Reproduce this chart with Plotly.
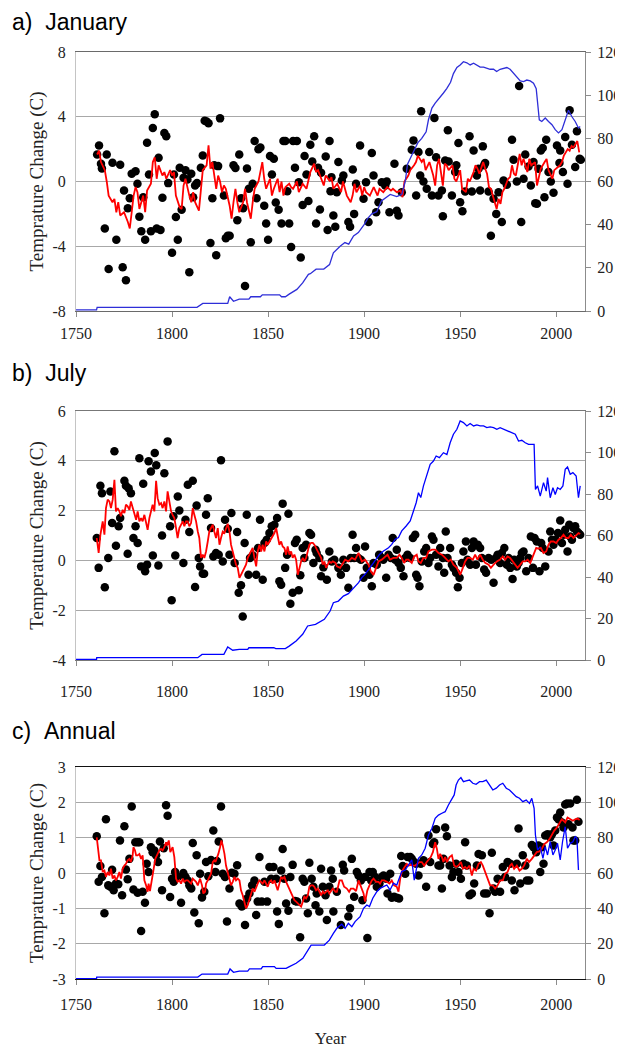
import plotly.graph_objects as go

# ---------------- DATA ----------------
# (year, temperature change in C) for the black dots
jan_points = [
    (1761, 1.67), (1762, 2.23), (1763, 1.1), (1763.5, 0.8), (1766, 1.67), (1765, -2.9), (1767, -5.4),
    (1769, 1.16), (1771, -3.6), (1773, 1.03), (1774.3, -5.3), (1776, -6.1), (1775, -0.56), (1777, -1.65),
    (1778, -1.03), (1779, 0.48), (1781, 0.64), (1782, -0.14), (1783, -2.17), (1784, -3.08), (1785, -0.97),
    (1786, -3.6), (1787, 2.4), (1788, 0.43), (1789, -3.08), (1790, 3.3), (1791, 4.15), (1792, -2.9),
    (1793, 1.47), (1794, -3.0), (1795, -1.0), (1796, 3.0), (1797, 2.8), (1798, -0.1), (1800, -4.4),
    (1801, 0.43), (1802, -2.2), (1803, -3.6), (1804, 0.85), (1805, -1.75), (1806, 0.23), (1807, 0.7),
    (1808, 0.12), (1809, -5.6), (1810, 0.48), (1811, -0.97), (1812, -0.25), (1813, -0.1), (1815, 0.85),
    (1816, 1.6), (1817, 3.75), (1818, 3.7), (1819, 3.6), (1820, -3.8), (1821, -1.03), (1822, 1.0),
    (1823, -4.55), (1824, 0.95), (1825, 3.9), (1827, -0.87), (1828, -3.5), (1829, -3.35), (1830, -3.35),
    (1832, 1.0), (1833, 0.83), (1834, -2.4), (1835, 1.67), (1836, -1.03), (1837, -1.65), (1838, -6.45),
    (1839, 0.8), (1840, -0.45), (1841, -3.75), (1842, -0.14), (1843, 2.5), (1844, -1.03), (1845, 2.0),
    (1846, 2.1), (1848, -1.5), (1849, -2.6), (1850, -3.6), (1851, 1.57), (1852, 0.43), (1853, 1.4),
    (1854, -1.3), (1855.5, -1.75), (1857, -2.6), (1858, 2.5), (1859, 2.5), (1860, -0.6), (1861, -2.6),
    (1862, -4.05), (1863, 2.5), (1864, 0.85), (1865, 2.5), (1866, -0.04), (1867, -4.7), (1868, -1.45),
    (1869, 1.57), (1870, 0.43), (1871, -1.2), (1872, 2.27), (1873, 1.24), (1874, 2.8), (1875, -2.6),
    (1876, 0.85), (1877, -1.73), (1877.6, 0.54), (1880, 1.55), (1881, -3.0), (1882, 2.5), (1882.5, -0.6),
    (1883, 0.27), (1884, -2.1), (1885, -2.8), (1885.8, -0.66), (1886.6, 1.2), (1888.4, 0.06), (1889.2, 0.37),
    (1891.8, -2.5), (1892.7, -2.8), (1894.1, 0.74), (1894.8, -2.0), (1895.8, -0.14), (1897.9, 2.23),
    (1899.7, -1.07), (1901, -0.04), (1902.3, -2.5), (1904, 1.76), (1904.9, 0.37), (1906.3, -1.9),
    (1907.5, -1.28), (1909.2, -0.04), (1911, -0.25), (1911.8, 0.0), (1913.2, -1.9), (1915.8, 1.1),
    (1917, -1.8), (1917.9, -2.1), (1919.6, -0.66), (1922.2, 0.79), (1924.8, 1.96), (1925.7, 2.54),
    (1927.1, -0.87), (1928.3, 1.82), (1929.2, 0.37), (1929.7, 4.34), (1930.9, 0.0), (1932.6, -0.45),
    (1933.9, 1.82), (1935.3, -0.87), (1936.6, 3.93), (1937.5, 1.5), (1938.7, -0.87), (1940.5, -0.56),
    (1941, -2.15), (1942.2, 1.3), (1943.6, 3.16), (1944, 1.24), (1945.7, -0.87), (1947.4, 0.58),
    (1948, 1.0), (1949.1, 2.38), (1950, -1.28), (1951.2, -1.84), (1952.6, -0.62), (1954.9, 2.8),
    (1956.1, -0.62), (1957, 1.92), (1958.7, 0.37), (1959.6, 0.79), (1960.4, -0.56), (1961.8, 2.17),
    (1962.5, 1.0), (1963, 1.14), (1964.8, -0.62), (1966, -3.35), (1967.4, -1.07), (1968.8, -2.0),
    (1970, -0.66), (1971.7, -2.5), (1972.6, 0.06), (1974.3, -0.2), (1977, 2.58), (1977.8, 1.34),
    (1979.5, 0.0), (1980.7, 5.9), (1981.8, -2.5), (1983, 0.17), (1983.9, 1.67), (1985.6, 0.93),
    (1986.8, -0.25), (1988.2, 1.2), (1989.1, -1.34), (1990, -1.38), (1990.8, 0.79), (1992, 1.92),
    (1993, 2.07), (1993.9, -0.97), (1994.8, 2.58), (1996, 0.58), (1997.2, 0.0), (1998.6, -0.7),
    (2000.4, 2.23), (2001.7, 1.14), (2002.1, 1.92), (2003.5, 0.58), (2004.7, 2.75), (2005.9, -0.14),
    (2007, 4.4), (2008.2, 2.27), (2009.9, 0.89), (2010.8, 3.1), (2012.2, 1.4), (2012.8, 1.34),
]

jan_red = [
    (1761, 1.67), (1762, 1.9), (1763, 1.2), (1765, 0.7), (1766, 0), (1767, -0.87), (1769, -1.28), (1770, -1.07),
    (1771, -1.9), (1772, -1.28), (1773, -2.1), (1775, -1.9), (1777, -2.5), (1778, -2.9), (1779, -1.9),
    (1780, -0.87), (1781, -0.35), (1782, -0.66), (1783, -1.7), (1785, -0.87), (1786, -1.9), (1787, -0.56),
    (1789, -0.14), (1790, 1.2), (1791, 1.5), (1792, 0.17), (1793, 1.0), (1795, 0.37), (1796, 0.58),
    (1797, 0.17), (1799, 0.7), (1800, 0.37), (1801, 0.58), (1802, -0.87), (1804, -1.6), (1805, -1.7),
    (1806, -0.25), (1807, 0.17), (1809, -0.87), (1810, -1.28), (1811, -0.66), (1812, -1.28), (1814, -1.8),
    (1815, -0.45), (1816, 0.7), (1818, 1.0), (1819, 2.23), (1820, 0.79), (1821, 1.2), (1823, -0.45),
    (1824, 0.37), (1825, 0), (1826, -0.66), (1827, -0.25), (1828, -0.45), (1830, -1.5), (1831, -2.3),
    (1832, -1.28), (1833, -0.45), (1834, -1.28), (1835, -1.9), (1837, -1.28), (1838, -0.45), (1839, -1.28),
    (1841, -2.3), (1842, -1.28), (1843, -0.45), (1845, 0), (1846, 0.7), (1847, 1.2), (1848, 0.17),
    (1849, -0.45), (1851, 0.17), (1852, -0.87), (1853, -0.45), (1855, 0.17), (1856, -0.66), (1857, 0),
    (1858, -0.87), (1859, -0.35), (1861, -0.14), (1862, -0.35), (1863, -0.45), (1865, 0), (1866, -0.66),
    (1867, -0.35), (1868, -0.14), (1870, -0.45), (1871, 0), (1872, 0.58), (1874, 1.1), (1875, 0.58),
    (1876, 0.7), (1878, 0.06), (1879, -0.25), (1880, 0.37), (1882, 0.06), (1883, 0.27), (1884, -0.45),
    (1886, -0.14), (1888, -0.66), (1889, 0.0), (1891, -0.87), (1893, -1.28), (1894, -0.87), (1895, -0.14),
    (1896, -0.66), (1898, -0.25), (1899, -0.87), (1900, -0.35), (1901, -0.66), (1903, -0.87), (1905, -0.35),
    (1907, -0.87), (1908, -0.45), (1910, -0.66), (1912, -0.35), (1914, -0.56), (1915, -0.45), (1917, -0.66),
    (1919, -0.56), (1920, -0.97), (1921, 0.0), (1923, 0.37), (1924, 0.7), (1926, 1.0), (1927, 1.2),
    (1928, 1.6), (1930, 1.2), (1931, 1.4), (1932, 0.7), (1934, 1.2), (1935, 0.8), (1936, 0.37),
    (1937, -0.25), (1938, 1.0), (1939, 1.4), (1940, 0.7), (1941, -0.25), (1942, 1.1), (1943, 1.0),
    (1944, 0.7), (1946, 1.0), (1947, 0.17), (1948, 0.0), (1950, 0.7), (1951, -0.45), (1953, -0.66),
    (1954, 0.17), (1955, 0.0), (1957, 0.58), (1958, 1.0), (1959, 0.8), (1960, 0.48), (1962, 1.2),
    (1963, 0.8), (1964, 0.48), (1965, -0.35), (1966, -0.45), (1968, -1.28), (1969, -1.7), (1970, -1.07),
    (1971, -1.38), (1972, -0.66), (1973, -0.45), (1975, 0.17), (1976, 0.27), (1977, 1.0), (1978, 0.48),
    (1979, 0.37), (1981, 1.7), (1982, 1.0), (1983, 1.4), (1985, 0.58), (1986, 1.4), (1987, 1.0),
    (1989, 1.2), (1990, -0.25), (1991, 0.37), (1992, 0.8), (1994, 1.2), (1995, 1.4), (1996, 0.7),
    (1998, 0.17), (1999, 0.7), (2000, 0.8), (2002, 1.0), (2003, 1.2), (2004, 1.6), (2006, 2.0),
    (2007, 1.9), (2008, 2.2), (2009, 2.1), (2011, 2.5), (2012, 1.8),
]

# (year, number of stations) for the blue line
jan_stations = [
    (1750, 0.5), (1760.7, 0.5), (1761, 1.7), (1813, 1.7), (1816, 3.5), (1829, 3.5), (1830, 6.6), (1832, 4.5),
    (1835, 5.5), (1840, 5.5), (1841, 6.6), (1846, 6.6), (1847, 7.5), (1856, 7.5), (1857, 6.6), (1859, 6.6),
    (1861, 7.8), (1865, 10), (1868, 13), (1871, 17), (1872, 17.3), (1875, 19.4), (1879, 19.4), (1882, 21.5),
    (1884, 27), (1885, 28), (1887.5, 30), (1890, 31.7), (1892, 31), (1894.5, 34.8), (1897, 36.3), (1900, 40),
    (1902, 43), (1904, 45), (1906.6, 46), (1909, 51), (1911, 52.5), (1913.6, 54), (1917, 53), (1919.6, 54),
    (1921.4, 60), (1922.6, 68), (1925, 72.5), (1926.6, 75.5), (1928, 78), (1930, 80), (1932.3, 83),
    (1933.5, 88.6), (1935.3, 94), (1937, 96.3), (1938.7, 98), (1941.3, 101), (1943, 103), (1945, 106),
    (1946.5, 110), (1948.3, 112.8), (1950, 114), (1951.7, 115.5), (1953.5, 115), (1955.2, 114),
    (1957, 114.8), (1958.7, 114), (1960.4, 113), (1962.2, 113), (1964, 112.5), (1965.6, 112), (1967.4, 112),
    (1969, 111), (1970.8, 112), (1972.6, 112.5), (1974.3, 112.8), (1976, 112), (1977.8, 110), (1979.5, 108.6),
    (1981.3, 106.6), (1983, 106.3), (1984.7, 107), (1986.5, 106.6), (1988.2, 105.5), (1989.6, 103),
    (1990.3, 95.5), (1991.2, 88.6), (1992.5, 87.8), (1994.3, 89.4), (1996, 87.8), (1997.8, 86.3),
    (1999.5, 84), (2001.2, 82.5), (2003, 84), (2004.7, 88.6), (2006.4, 93), (2008.2, 90), (2009.9, 87.8),
    (2011.6, 84.8), (2012.5, 85.5),
]

jul_points = [
    (1760.8, 0.9), (1761.8, -0.3), (1762.7, 3.0), (1763.5, 2.7), (1765, -1.08), (1766.8, 0.1), (1767.9, 2.77),
    (1768.8, 1.5), (1770, 4.38), (1770.8, 0.59), (1772.2, 1.37), (1773, 1.7), (1775.2, 3.2), (1776, 3.0),
    (1776.9, 0.27), (1777.4, 2.9), (1778.6, 2.7), (1779.9, 0.9), (1781, 1.37), (1782.1, 0.7), (1783, 4.1),
    (1783.9, -0.24), (1785, 3.08), (1786, -0.44), (1787, -0.17), (1787.8, 3.98), (1789, 3.57), (1790, 0.2),
    (1791, 4.31), (1791.8, 3.82), (1792.9, -0.2), (1794.8, 1.0), (1796, 3.5), (1797.7, 4.78), (1799, 1.37),
    (1799.8, -1.6), (1800.7, 1.77), (1801.7, 0.2), (1803, 2.57), (1803.8, 2.0), (1805.9, -0.1), (1807, 1.63),
    (1808.2, 3.04), (1809, 1.14), (1810.8, 3.2), (1812, -1.07), (1812.8, 2.2), (1813.9, 0.1), (1814.6, -0.24),
    (1816, -0.54), (1816.7, -0.54), (1817.7, 1.83), (1818.6, 2.5), (1820.3, 1.3), (1821.5, 0.16),
    (1822.9, 0.3), (1824.3, 0.23), (1825.5, 4.02), (1826.4, -0.04), (1827.6, 1.63), (1829, 1.27),
    (1829.9, 0.23), (1830.9, 1.9), (1832.6, -0.1), (1833.9, 1.14), (1834.7, -1.3), (1835.9, -1.0),
    (1836.8, -2.25), (1837.8, 0.7), (1838.9, 1.83), (1839.8, -0.58), (1840.6, 0.1), (1842, 0.2),
    (1843.8, -0.58), (1844.8, 0.5), (1845.8, 1.63), (1847.2, -0.78), (1848.1, 0.7), (1849.3, 0.83),
    (1850.7, 1.1), (1851.9, 1.37), (1853.3, 1.43), (1854.7, 1.7), (1855.9, -0.84), (1856.8, -0.98),
    (1857.6, 2.28), (1858.9, -0.3), (1859.9, 0.23), (1860.6, 1.87), (1861.6, -1.74), (1862.8, -1.3),
    (1864, 0.7), (1864.9, 0.83), (1866, -1.2), (1866.8, -0.6), (1868, 0.5), (1868.9, 0.1), (1869.8, 0.63),
    (1871.5, 1.1), (1872.4, 1.03), (1873.6, -0.1), (1874.7, 0.43), (1875.3, 0.3), (1876.7, 0.1),
    (1877.6, -0.64), (1878.8, -0.28), (1880.6, -0.78), (1881.9, 0.36), (1883.2, -0.04), (1884.5, 0.03),
    (1886.6, -0.3), (1887.9, -0.58), (1889.2, 0.03), (1890.6, -0.3), (1891.8, -1.1), (1893, 0.1),
    (1894, 1.03), (1894.8, 0.1), (1895.8, 0.5), (1897, 0.1), (1898.3, 0.03), (1899.7, -0.7), (1900.5, 0.56),
    (1901.4, -0.3), (1902.8, -0.58), (1904, -1.04), (1904.9, -0.1), (1906.6, -0.17), (1907.8, 0.23),
    (1909.2, 0.1), (1910, 0.03), (1911.5, -0.7), (1912.7, 0.23), (1913.9, 0.1), (1914.9, 0.9),
    (1916.2, 0.03), (1917, 0.43), (1917.9, -0.1), (1919.1, -0.3), (1920.5, -0.64), (1921.4, 0.1),
    (1922.6, 0.23), (1924, 0.1), (1925.4, 0.9), (1926.6, 1.03), (1927.1, -0.58), (1927.8, -0.7),
    (1928.8, -1.04), (1930, -0.04), (1931.3, 0.36), (1932.3, 0.5), (1933.5, -0.1), (1934.4, 0.1),
    (1935.3, 0.96), (1936.1, 0.83), (1937.5, 0.23), (1938.7, -0.24), (1939.6, 0.5), (1941, 0.1),
    (1941.7, -0.5), (1942.5, 1.16), (1943.4, 0.1), (1944.8, 0.5), (1945.7, -0.17), (1946.5, -0.3),
    (1947.9, -0.5), (1948.8, -1.08), (1949.7, -0.7), (1950.9, -0.1), (1951.7, 0.36), (1953, 0.76),
    (1953.8, 0.03), (1955.2, -0.17), (1956.1, 0.5), (1957, 0.76), (1958.2, -0.17), (1959.2, 0.63),
    (1960.4, 0.5), (1961.3, 0.1), (1962.5, -0.37), (1963.5, -0.5), (1964.8, 0.1), (1966.2, 0.03),
    (1967.4, -0.9), (1968.6, 0.1), (1969.5, 0.23), (1970.8, -0.1), (1971.7, 0.3), (1973, 0.5),
    (1974.3, -0.17), (1975.2, 0.1), (1976.1, -0.3), (1977.3, -0.75), (1978.1, 0.03), (1979.5, -0.24),
    (1980.4, -0.1), (1981.3, 0.1), (1982.1, 0.3), (1983, 0.36), (1984.4, -0.44), (1985.6, 0.1),
    (1986.8, 0.96), (1987.9, -0.3), (1988.7, 0.9), (1989.9, 0.76), (1991.3, -0.44), (1992.2, 0.7),
    (1993, 0.5), (1994.3, -0.24), (1996, 0.36), (1996.9, 1.16), (1997.8, 0.83), (1998.6, 0.63),
    (1999.8, 0.83), (2000.9, 1.1), (2002.1, 1.6), (2003, 0.7), (2003.8, 1.03), (2004.7, 1.23),
    (2005.9, 0.36), (2006.8, 1.43), (2007.3, 0.96), (2008.2, 0.83), (2009, 1.3), (2009.9, 1.37),
    (2010.8, 1.16), (2011.6, 1.1), (2012.5, 1.03),
]

jul_red = [
    (1760.8, 0.9), (1761.8, 0.3), (1762.7, 1.03), (1763.9, 1.57), (1764.8, 1.03), (1765.6, 2.1), (1766.5, 2.44),
    (1767.4, 2.37), (1768.2, 2.1), (1769.1, 2.44), (1770.0, 3.24), (1770.8, 1.97), (1771.7, 2.1), (1772.6, 1.97),
    (1773.4, 1.77), (1774.3, 2.03), (1775.2, 1.9), (1776.0, 2.24), (1776.9, 2.17), (1777.8, 2.03), (1778.6, 2.37),
    (1779.5, 2.1), (1780.4, 1.83), (1781.3, 1.63), (1782.1, 1.97), (1783.0, 1.57), (1783.9, 1.7), (1784.7, 1.57),
    (1785.6, 1.83), (1786.5, 1.43), (1787.3, 1.23), (1788.2, 1.7), (1789.1, 1.97), (1789.9, 2.24), (1790.8, 1.97),
    (1791.7, 3.2), (1792.5, 2.5), (1793.4, 2.24), (1794.3, 2.3), (1795.1, 2.1), (1796.0, 2.37), (1796.9, 1.97),
    (1797.7, 2.77), (1798.6, 2.37), (1799.5, 1.97), (1800.3, 1.83), (1801.2, 1.7), (1802.1, 1.3), (1802.9, 0.9),
    (1803.8, 1.3), (1804.7, 1.43), (1805.6, 1.57), (1806.4, 1.37), (1807.3, 1.57), (1808.2, 1.57), (1809.0, 1.37),
    (1809.9, 1.5), (1810.8, 2.1), (1811.6, 1.83), (1812.5, 1.57), (1813.4, 1.16), (1814.2, 0.9), (1815.1, 0.1),
    (1816.0, 0.23), (1816.8, 0.1), (1817.7, 0.36), (1818.6, 0.76), (1819.4, 1.16), (1820.3, 1.3), (1821.2, 1.43),
    (1822.0, 1.16), (1822.9, 0.9), (1823.8, 1.3), (1824.7, 0.63), (1825.5, 0.9), (1826.4, 1.16), (1827.3, 1.1),
    (1828.1, 1.3), (1829.0, 1.47), (1829.9, 1.16), (1830.7, 0.63), (1831.6, 0.36), (1832.5, 0.1), (1833.3, -0.17),
    (1834.2, -0.3), (1835.1, -0.7), (1835.9, -0.58), (1836.8, -0.44), (1837.7, -0.3), (1838.5, -0.17),
    (1839.4, 0.1), (1840.3, 0.23), (1841.1, 0.36), (1842.0, 0.5), (1842.9, 0.1), (1843.8, -0.24), (1844.6, 0.36),
    (1845.5, 0.63), (1846.4, 0.36), (1847.2, 0.63), (1848.1, 0.36), (1849.0, 0.76), (1849.8, 0.63),
    (1850.7, 0.76), (1851.6, 0.9), (1852.4, 1.03), (1853.3, 1.1), (1854.2, 1.3), (1855.0, 0.9), (1855.9, 0.63),
    (1856.8, 0.76), (1857.6, 0.56), (1858.5, 0.5), (1859.4, 0.23), (1860.2, 0.56), (1861.1, 0.23),
    (1862.0, 0.36), (1862.8, 0.1), (1863.7, 0.23), (1864.6, 0.03), (1865.5, -0.58), (1866.3, -0.3),
    (1867.2, -0.04), (1868.1, 0.1), (1868.9, -0.04), (1869.8, 0.1), (1870.7, 0.36), (1871.5, 0.63),
    (1872.4, 0.7), (1873.3, 0.7), (1874.1, 0.63), (1875.0, 0.5), (1875.9, 0.36), (1876.7, 0.23), (1877.6, 0.1),
    (1878.5, -0.17), (1879.3, -0.04), (1880.2, -0.3), (1881.1, -0.17), (1881.9, -0.04), (1882.8, -0.1),
    (1883.7, -0.04), (1885.1, -0.1), (1885.8, -0.24), (1887.5, -0.3), (1888.9, -0.1), (1890.1, 0.03),
    (1891.8, -0.04), (1893.6, 0.1), (1895.3, 0.03), (1897.1, 0.3), (1898.8, -0.04), (1900.5, 0.03),
    (1902.3, -0.17), (1903.5, -0.44), (1904.9, -0.58), (1906.1, -0.3), (1907.5, -0.04), (1909.2, 0.03),
    (1910.9, 0.16), (1912.2, 0.23), (1913.5, 0.03), (1915.3, 0.1), (1917.0, 0.1), (1918.4, 0.23), (1919.6, 0.1),
    (1920.8, -0.1), (1921.9, 0.03), (1923.1, 0.03), (1924.8, -0.1), (1926.1, 0.16), (1927.4, 0.23),
    (1928.3, -0.04), (1929.5, -0.1), (1930.9, 0.1), (1932.3, 0.1), (1933.5, 0.36), (1935.3, 0.43),
    (1937.0, 0.43), (1938.7, 0.3), (1940.5, 0.23), (1942.2, 0.1), (1943.9, -0.04), (1945.1, 0.03),
    (1946.5, -0.17), (1948.3, -0.3), (1950.0, -0.58), (1951.4, -0.3), (1952.6, -0.04), (1953.8, 0.1),
    (1955.2, 0.1), (1956.6, 0.03), (1957.8, 0.23), (1959.0, 0.03), (1960.4, 0.23), (1961.8, 0.03),
    (1963.0, -0.1), (1964.8, -0.17), (1966.0, -0.3), (1967.4, -0.17), (1969.1, -0.04), (1970.8, 0.03),
    (1972.2, 0.16), (1973.4, 0.03), (1974.7, 0.16), (1976.0, 0.1), (1977.4, -0.04), (1978.7, -0.17),
    (1979.9, -0.3), (1981.3, -0.17), (1982.6, -0.04), (1983.9, -0.04), (1985.1, 0.03), (1986.5, -0.1),
    (1988.2, 0.23), (1989.6, 0.5), (1990.8, 0.47), (1992.0, 0.5), (1993.4, 0.3), (1994.8, 0.36),
    (1996.0, 0.63), (1997.2, 0.76), (1998.6, 0.76), (2000.0, 0.7), (2001.2, 0.83), (2002.4, 0.9),
    (2003.8, 1.03), (2005.2, 0.9), (2006.4, 0.9), (2007.6, 1.03), (2009.0, 0.9), (2010.4, 1.03),
    (2011.6, 1.1), (2012.5, 1.06),
]

jul_stations = [
    (1750, 0.3), (1760.7, 0.3), (1760.8, 1.1), (1813.4, 1.1), (1815.6, 2.7), (1827, 2.7), (1829, 6.3),
    (1831.6, 4.7), (1835, 5.1), (1839.4, 5.1), (1840, 5.9), (1853, 5.9), (1854, 5.5), (1859, 5.5), (1861, 6.7),
    (1864.6, 9.2), (1868, 12.4), (1870.6, 16.4), (1874.7, 17.2), (1879.3, 19.6), (1882.3, 23.6), (1884, 27.6),
    (1886.6, 28.4), (1889.2, 30.8), (1891.8, 32), (1894.5, 34.9), (1897.1, 37.3), (1898.8, 39.7),
    (1900.5, 41.3), (1903.1, 44.5), (1905.7, 47.7), (1908, 50.9), (1910.1, 52.5), (1912.7, 54.1),
    (1914.4, 55.7), (1916.2, 58.2), (1917.9, 59), (1919.6, 62.2), (1921.9, 64.6), (1924, 67), (1925.7, 71.8),
    (1927.1, 75.8), (1928.3, 80.6), (1929.5, 78.3), (1930.9, 83.9), (1932.6, 88.7), (1934.4, 94.3),
    (1936.1, 95.9), (1937.5, 98.3), (1939.2, 97.5), (1941.3, 99.9), (1943.1, 99), (1944.8, 104.7),
    (1946.5, 108.8), (1948.3, 111.2), (1950, 115.2), (1951.7, 114.4), (1953.5, 112.8), (1955.2, 114),
    (1957, 112.8), (1958.7, 113.3), (1960.4, 112.8), (1962.2, 112.8), (1963.9, 112), (1965.6, 112.3),
    (1967.4, 112), (1969.1, 111.2), (1970.8, 112), (1972.6, 111.2), (1974.3, 110.4), (1976, 110),
    (1978.7, 108.8), (1980.4, 105.5), (1982.1, 105.9), (1983.9, 104.7), (1985.6, 103.9), (1987.3, 103.9),
    (1988.5, 103.9), (1989.2, 82.2), (1990.3, 83.9), (1991.7, 79), (1993.4, 85.5), (1994.8, 81.4),
    (1995.5, 87.9), (1996.9, 78.2), (1998.3, 83), (1999.5, 79.8), (2000.7, 83), (2002.1, 82.2),
    (2003.5, 83.9), (2004.7, 91.9), (2005.9, 93), (2007.3, 89.5), (2008.7, 90.3), (2010.4, 88.7),
    (2011.6, 78.2), (2012.5, 83.9),
]

ann_points = [
    (1760.8, 1.04), (1761.8, -0.25), (1762.7, 0.2), (1763.5, -0.11), (1764.8, -1.14), (1765.6, 1.52),
    (1766.8, -0.35), (1767.9, -0.39), (1768.8, 0.09), (1769.6, -0.49), (1770.8, -0.3), (1772, -0.32),
    (1772.9, 0.92), (1774, -0.63), (1775.2, 1.32), (1776, 0.1), (1776.9, -0.18), (1777.8, 0.4), (1779, 1.88),
    (1779.9, -0.47), (1780.9, 0.87), (1782.1, 0.87), (1783, 0.87), (1782.1, -0.56), (1783.9, -1.64),
    (1784.7, -0.53), (1785.9, -0.84), (1786.8, 0.26), (1787.8, 0.03), (1789, 0.73), (1789.9, 0.59),
    (1790.8, 0.64), (1791.7, 0.5), (1792.7, 0.31), (1793.7, 0.89), (1794.8, -0.49), (1795.7, 0.7),
    (1796.9, 1.92), (1797.7, 1.62), (1799, -0.68), (1800, -0.16), (1800.9, -0.25), (1801.6, 0.03),
    (1803, -0.11), (1804.7, -0.84), (1805.9, 0), (1807, -0.11), (1808.2, -0.21), (1809, -0.35), (1810, -0.44),
    (1810.8, 0.85), (1811.6, -1.12), (1812.8, 0.5), (1813.9, -1.42), (1814.6, -0.02), (1815.6, -0.69),
    (1816.8, -0.53), (1817.7, 0.31), (1818.9, -0.09), (1820.3, 0.37), (1821.5, 1.2), (1822.6, 0.03),
    (1823.3, 0.34), (1824.3, 0.89), (1825.5, 1.88), (1826.4, -0.02), (1827.6, -0.11), (1828.6, -1.37),
    (1829.9, -0.44), (1831.1, 0.01), (1832.5, -0.02), (1833.9, 0.22), (1835.1, -0.86), (1836.3, -0.95),
    (1837.3, -0.91), (1838, -1.47), (1839.1, -0.72), (1840.3, -0.58), (1841.7, -0.35), (1842.9, -0.21),
    (1843.8, -1.19), (1844.6, -0.81), (1845.5, 0.45), (1846.7, -0.81), (1848.1, -0.25), (1849.5, -0.81),
    (1850.7, 0.17), (1851.6, -0.16), (1852.8, 0.17), (1854.2, -0.16), (1854.7, -1.09), (1855.6, -1.44),
    (1856.8, 0.07), (1857.6, 0.68), (1858.5, -0.16), (1859.4, -0.86), (1860.6, -1.07), (1861.6, -0.11),
    (1862.8, 0.23), (1864, -0.79), (1865.1, -0.81), (1866.7, -1.82), (1868, -0.16), (1868.9, -0.25),
    (1869.8, -0.72), (1870.7, -1.14), (1871.5, 0.29), (1872.7, -0.16), (1873.6, -0.39), (1874.7, -0.91),
    (1875.3, -0.58), (1876.7, -1.09), (1877.6, 0.12), (1878.5, -0.39), (1879.9, -0.63), (1880.6, -1.33),
    (1881.9, -0.39), (1882.8, 0.07), (1883.7, -0.16), (1884, -1.09), (1885.8, -0.53), (1887.9, -1.47),
    (1888.9, 0.23), (1889.6, 0.07), (1891.8, -1.23), (1892.7, -1.0), (1893.6, 0.4), (1894.8, -0.67),
    (1896.2, 0.03), (1897.1, -0.07), (1898.3, -0.21), (1899.1, -0.77), (1900.5, -0.11), (1901.7, -1.84),
    (1902.8, 0.03), (1903.7, -0.21), (1904.5, 0.03), (1905.7, -0.11), (1906.6, -0.39), (1908, -0.3),
    (1909.2, -0.11), (1910.1, -0.07), (1911.5, -0.16), (1912.2, -0.58), (1913.6, -0.02), (1914.4, -0.7),
    (1915.6, -0.67), (1917, -0.7), (1918.2, -0.72), (1919.3, 0.48), (1920.1, 0.2), (1921.4, -0.02),
    (1922.6, 0.45), (1924, 0.45), (1924.8, 0.4), (1926.1, 0.31), (1927.1, 0.26), (1928.3, -0.07),
    (1929.5, 0.26), (1930.9, 0.36), (1932.3, -0.39), (1933.5, 1.06), (1934.4, 0.31), (1935.8, 0.82),
    (1936.5, 0.87), (1937.5, 1.24), (1938.7, 0.21), (1939.6, 0.21), (1940.5, -0.44), (1941.3, 0.4),
    (1942.2, 1.29), (1943.1, 1.04), (1944.5, 0.21), (1945.7, -0.11), (1946.5, 0.03), (1947.9, 0.26),
    (1949.1, 0.03), (1950.4, -0.16), (1951.7, 0.26), (1952.6, 0.87), (1953.5, 0.21), (1954.9, -0.63),
    (1956.1, -0.58), (1957.3, -0.3), (1958.7, 0.21), (1959.6, 0.54), (1961.3, 0.5), (1962.5, -0.58),
    (1963.9, -0.58), (1965.3, -1.14), (1966.5, 0.57), (1967.4, -0.44), (1968.2, -0.53), (1969.5, -0.16),
    (1970.8, -0.53), (1972.2, 0.17), (1973.4, -0.11), (1974.7, 0.31), (1976.1, 0.26), (1976.9, -0.21),
    (1978.3, -0.49), (1979.5, 0.26), (1980.4, 1.26), (1981.3, -0.3), (1982.6, 0.5), (1983.9, 0.21),
    (1984.7, -0.21), (1986, -0.21), (1987.3, 0.79), (1988.2, 0.73), (1989.6, 0.59), (1990.8, 0.78),
    (1991.7, 0.03), (1992.5, 0.73), (1993.4, 0.26), (1994.3, 1.06), (1995.5, 1.1), (1996.9, 1.01),
    (1997.8, 1.1), (1998.6, 0.78), (1999.5, 1.2), (2000.4, 1.57), (2001.2, 1.52), (2002.1, 1.71),
    (2003, 1.43), (2003.8, 1.29), (2004.7, 1.94), (2005.6, 1.97), (2006.4, 1.38), (2007.3, 1.97),
    (2008.5, 1.29), (2009, 0.92), (2009.9, 0.92), (2010.8, 2.07), (2011.6, 1.45),
]

ann_red = [
    (1760.8, 1.01), (1761.5, 0.59), (1762.2, 0.36), (1763.0, 0.36), (1763.9, 0.03), (1764.8, 0.07), (1765.6, -0.11),
    (1766.5, 0.03), (1767.4, -0.07), (1768.2, 0.12), (1769.1, -0.16), (1770.0, -0.07), (1770.8, -0.21),
    (1771.7, -0.11), (1772.6, 0.03), (1773.4, -0.16), (1774.3, 0.12), (1775.2, 0.21), (1776.0, 0.26),
    (1776.9, 0.36), (1777.8, 0.4), (1778.6, 0.31), (1779.5, 0.5), (1779.9, 0.73), (1780.7, 0.64), (1781.3, 0.5),
    (1782.1, 0.5), (1783.0, 0.54), (1783.9, 0.4), (1784.7, 0.5), (1785.6, -0.21), (1786.5, -0.35),
    (1787.3, -0.53), (1787.8, -0.3), (1788.5, -0.51), (1789.6, -0.16), (1790.3, 0.12), (1791.3, 0.4),
    (1792.5, 0.54), (1793.4, 0.64), (1794.3, 0.68), (1795.1, 0.64), (1796.0, 0.73), (1796.9, 0.87),
    (1797.4, 0.78), (1798.3, 0.92), (1799.1, 0.59), (1800.3, 0.73), (1801.2, 0.45), (1802.1, -0.16),
    (1802.9, -0.25), (1803.8, -0.21), (1804.7, -0.3), (1805.6, -0.16), (1806.4, -0.25), (1807.3, -0.21),
    (1808.2, -0.21), (1809.0, -0.25), (1809.9, -0.3), (1810.8, -0.16), (1811.6, -0.21), (1812.5, -0.25),
    (1813.4, -0.35), (1814.6, -0.16), (1815.6, -0.35), (1816.3, -0.58), (1817.2, -0.53), (1817.7, -0.3),
    (1818.6, -0.21), (1819.4, -0.11), (1820.3, -0.02), (1821.2, 0.31), (1822.0, 0.36), (1822.6, 0.31),
    (1823.3, 0.4), (1824.1, 0.54), (1825.0, 0.73), (1825.7, 0.92), (1826.4, 0.78), (1827.3, 0.54),
    (1828.1, 0.21), (1829.0, 0.03), (1829.9, -0.11), (1830.7, -0.35), (1831.6, -0.25), (1832.5, -0.11),
    (1833.3, -0.21), (1834.2, -0.16), (1835.1, -0.21), (1835.9, -0.49), (1836.8, -0.63), (1837.7, -0.81),
    (1838.5, -1.0), (1839.4, -0.91), (1840.3, -0.77), (1841.1, -0.63), (1842.0, -0.44), (1842.9, -0.53),
    (1843.8, -0.39), (1844.6, -0.3), (1845.5, -0.21), (1846.4, -0.25), (1847.2, -0.3), (1848.1, -0.21),
    (1849.0, -0.3), (1849.8, -0.39), (1850.7, -0.25), (1851.6, -0.21), (1852.4, -0.3), (1853.3, -0.21),
    (1854.2, -0.35), (1855.0, -0.49), (1855.9, -0.3), (1856.8, -0.11), (1857.6, -0.16), (1858.5, -0.11),
    (1859.4, -0.25), (1860.2, -0.35), (1861.1, -0.49), (1862.0, -0.58), (1862.8, -0.67), (1863.7, -0.77),
    (1864.6, -0.81), (1865.5, -0.86), (1866.3, -0.91), (1867.2, -0.95), (1868.1, -0.81), (1868.9, -0.67),
    (1869.8, -0.72), (1870.7, -0.63), (1871.5, -0.39), (1872.4, -0.35), (1873.3, -0.35), (1874.1, -0.39),
    (1875.0, -0.49), (1875.9, -0.44), (1876.7, -0.53), (1877.6, -0.63), (1878.5, -0.53), (1879.3, -0.58),
    (1880.2, -0.53), (1881.1, -0.49), (1881.9, -0.58), (1882.8, -0.49), (1883.7, -0.44), (1885.1, -0.53),
    (1885.8, -0.53), (1887.2, -0.21), (1888.4, -0.21), (1889.6, -0.39), (1891.0, -0.44), (1892.2, -0.53),
    (1893.1, -0.44), (1894.5, -0.44), (1895.8, -0.51), (1897.1, -0.21), (1898.3, -0.39), (1899.7, -0.58),
    (1900.5, -0.81), (1901.7, -0.49), (1902.8, -0.35), (1904.0, -0.21), (1904.9, -0.16), (1906.3, -0.25),
    (1907.5, -0.25), (1908.3, -0.3), (1909.2, -0.21), (1910.4, -0.21), (1911.8, -0.25), (1913.2, -0.3),
    (1914.4, -0.21), (1915.6, -0.35), (1917.0, -0.39), (1917.9, -0.53), (1918.8, -0.16), (1919.6, 0.03),
    (1920.5, 0.12), (1921.4, 0.21), (1922.2, 0.26), (1923.1, 0.21), (1924.0, 0.23), (1925.4, 0.21),
    (1926.6, 0.21), (1927.8, 0.26), (1928.8, 0.31), (1930.0, 0.31), (1931.3, 0.21), (1932.6, 0.31),
    (1933.9, 0.4), (1934.7, 0.45), (1935.8, 0.59), (1937.0, 0.87), (1937.9, 0.68), (1938.7, 0.4),
    (1939.6, 0.54), (1940.5, 0.45), (1941.3, 0.31), (1942.2, 0.45), (1943.1, 0.31), (1944.5, 0.45),
    (1945.7, 0.5), (1946.9, 0.21), (1947.9, 0.17), (1949.1, 0.21), (1950.4, 0.31), (1951.4, 0.12),
    (1952.6, 0.17), (1953.5, 0.12), (1954.9, 0.21), (1956.1, -0.07), (1957.0, 0.12), (1958.3, 0.07),
    (1959.6, 0.26), (1960.8, 0.31), (1961.8, 0.21), (1963.0, 0.03), (1964.2, -0.16), (1965.6, -0.35),
    (1967.0, -0.35), (1968.2, -0.44), (1969.5, -0.35), (1970.8, -0.21), (1972.2, -0.21), (1973.4, -0.02),
    (1974.7, 0.03), (1976.0, 0.21), (1976.9, 0.26), (1978.1, 0.12), (1979.5, 0.21), (1980.9, 0.07),
    (1982.1, 0.12), (1983.3, 0.21), (1984.7, 0.4), (1985.9, 0.31), (1987.3, 0.4), (1988.5, 0.5),
    (1989.9, 0.59), (1991.3, 0.61), (1992.5, 0.68), (1993.8, 0.82), (1995.1, 0.87), (1996.5, 0.96),
    (1997.8, 1.1), (1999.0, 1.2), (2000.4, 1.29), (2001.7, 1.43), (2002.9, 1.52), (2003.8, 1.48),
    (2004.7, 1.43), (2005.9, 1.57), (2007.3, 1.52), (2008.7, 1.48), (2009.9, 1.52), (2011.1, 1.54),
    (2012.2, 1.5),
]

ann_stations = [
    (1750, 0.2), (1760.7, 0.2), (1760.8, 1.1), (1813.4, 1.1), (1815.6, 2.8), (1829, 2.8), (1830.2, 5.7),
    (1832, 3.8), (1835, 4.5), (1839.4, 4.5), (1840.3, 5.7), (1846.4, 5.7), (1847.2, 7), (1853.3, 7),
    (1854.2, 6), (1859.4, 6), (1861.1, 7), (1864.6, 8.9), (1868.1, 11.7), (1869.8, 14.5), (1872.4, 19.2),
    (1879.3, 19.2), (1881.9, 22), (1884, 25.8), (1885.8, 28.7), (1888.4, 31), (1890.1, 28.7), (1891.8, 31.5),
    (1893.6, 29.6), (1895.3, 32.5), (1897.9, 35.3), (1899.7, 40), (1901.4, 41.9), (1902.8, 41),
    (1904.5, 45.7), (1906.6, 49.4), (1908.3, 51.3), (1910.1, 52.3), (1911.8, 53.2), (1913.5, 50.4),
    (1915.3, 54.2), (1917, 53.2), (1917.9, 56), (1919.6, 60.8), (1921.4, 61.7), (1923.1, 64.5),
    (1924.8, 67.4), (1926.1, 56), (1927.1, 60.8), (1928.3, 68.3), (1930, 70.2), (1931.8, 74),
    (1933.5, 81.5), (1935.3, 85.3), (1937, 90.9), (1938.7, 92.8), (1940.5, 93.8), (1942.2, 94.7),
    (1943.9, 98.5), (1945.7, 102.3), (1946.9, 104.2), (1947.9, 109.8), (1949.1, 112.6), (1950.4, 114),
    (1951.7, 111.7), (1953.1, 112.1), (1954.9, 112.6), (1956.6, 110.8), (1958.3, 110.2), (1960.1, 111.7),
    (1961.8, 111.7), (1963.6, 112.6), (1965.3, 109.8), (1967, 107), (1968.8, 108), (1970.5, 109.8),
    (1972.2, 110.8), (1974, 108), (1975.7, 107), (1977.4, 105.1), (1979.2, 103.2), (1980.9, 102.3),
    (1982.6, 100.4), (1984.4, 101.3), (1986.1, 99.4), (1987.3, 102.3), (1988.5, 96.6), (1989.2, 81.5),
    (1990.3, 73), (1991.7, 74.9), (1993.1, 68.3), (1994.3, 74.9), (1995.5, 70.2), (1996.9, 77.7),
    (1998.3, 70.2), (1999.5, 73), (2000.7, 76.8), (2002.1, 67.4), (2003.3, 77.7), (2004.7, 86.2),
    (2005.9, 74), (2007.3, 76.8), (2008.7, 77.7), (2009.9, 80.6), (2010.8, 79.6), (2011.6, 61.7),
]

x_ticks = [1750, 1800, 1850, 1900, 1950, 2000]
station_ticks = [0, 20, 40, 60, 80, 100, 120]

# ---------------- LAYOUT CONFIG ----------------
# The page body adds an 8px margin, so the figure is laid out 8px up/left of screen pixels.
PAGE = 8
W, H = 623 - PAGE, 1048 - PAGE
SCR_L, SCR_R, SCR_T, SCR_B = 76, 585, 52, 979     # plot area in screen pixels
ML = SCR_L - PAGE
MR = W - (SCR_R - PAGE)
MT = SCR_T - PAGE
MB = H - (SCR_B - PAGE)
PW, PH = W - ML - MR, H - MT - MB
SERIF = "Liberation Serif, Times New Roman, serif"
SANS = "Liberation Sans, Arial, sans-serif"


def fy(scr_y):
    """screen pixel row -> paper fraction within the plot area"""
    return (H - MB - (scr_y - PAGE)) / PH


def fx(scr_x):
    return (scr_x - PAGE - ML) / PW


panels = [
    dict(label="a)\u00a0\u00a0January", ytitle="Temprature Change (C)", yrange=[-8, 8], yticks=[-8, -4, 0, 4, 8],
         dots=jan_points, red=jan_red, blue=jan_stations, top=52, bot=311, label_top=8,
         topline="#6a6a6a", blue_color="#2e2ed8", xstand=3),
    dict(label="b)\u00a0\u00a0July", ytitle="Temperature Change (C)", yrange=[-4, 6], yticks=[-4, -2, 0, 2, 4, 6],
         dots=jul_points, red=jul_red, blue=jul_stations, top=411, bot=660, label_top=359,
         topline="#777777", blue_color="#0000ff", xstand=12),
    dict(label="c)\u00a0\u00a0Annual", ytitle="Temprature Change (C)", yrange=[-3, 3], yticks=[-3, -2, -1, 0, 1, 2, 3],
         dots=ann_points, red=ann_red, blue=ann_stations, top=767, bot=979, label_top=717,
         topline="#111111", blue_color="#0000ff", xstand=6),
]

fig = go.Figure()
layout = dict(
    template="none",
    width=W, height=H, margin=dict(l=ML, r=MR, t=MT, b=MB, pad=0),
    paper_bgcolor="white", plot_bgcolor="white", showlegend=False,
    annotations=[],
)

for i, p in enumerate(panels):
    xn = "x" if i == 0 else f"x{i+1}"
    yl = f"y{2*i+1}" if i > 0 else "y"
    yr = f"y{2*i+2}"
    xkey = "xaxis" if i == 0 else f"xaxis{i+1}"
    ylkey = "yaxis" if i == 0 else f"yaxis{2*i+1}"
    yrkey = f"yaxis{2*i+2}"

    dom_y = [max(0.0, fy(p["bot"])), min(1.0, fy(p["top"]))]

    fig.add_trace(go.Scatter(
        x=[d[0] for d in p["dots"]], y=[d[1] for d in p["dots"]], mode="markers",
        marker=dict(color="black", size=8.5, line=dict(width=0)), xaxis=xn, yaxis=yl,
        hoverinfo="skip"))
    fig.add_trace(go.Scatter(
        x=[d[0] for d in p["red"]], y=[d[1] for d in p["red"]], mode="lines",
        line=dict(color="#ff0000", width=1.8), xaxis=xn, yaxis=yl, hoverinfo="skip"))
    fig.add_trace(go.Scatter(
        x=[d[0] for d in p["blue"]], y=[d[1] for d in p["blue"]], mode="lines",
        line=dict(color=p["blue_color"], width=1.3), xaxis=xn, yaxis=yr, hoverinfo="skip"))

    xaxis = dict(
        domain=[0, 1], anchor=yl, range=[1750, 2015], tickvals=x_ticks, ticktext=[str(t) for t in x_ticks],
        showgrid=False, zeroline=False, showline=True, linecolor=p["topline"], linewidth=1,
        mirror=True, ticks="outside", ticklen=5, tickcolor="#8c8c8c", automargin=False,
        tickfont=dict(family=SERIF, size=16, color="#222"), ticklabelstandoff=p["xstand"],
    )
    if i == 2:
        xaxis["title"] = dict(text="Year", font=dict(family=SERIF, size=17, color="#222"), standoff=20)
    layout[xkey] = xaxis

    layout[ylkey] = dict(
        domain=dom_y, anchor=xn, range=p["yrange"], tickvals=p["yticks"],
        ticktext=[str(t) for t in p["yticks"]],
        showgrid=True, gridcolor="#a8a8a8", gridwidth=1, zeroline=False,
        showline=True, linecolor="#c4c4c4", linewidth=1, ticks="", automargin=False,
        tickfont=dict(family=SERIF, size=16, color="#222"), ticklabelstandoff=6,
        title=dict(text=p["ytitle"], font=dict(family=SERIF, size=19, color="#222"), standoff=3),
    )
    layout[yrkey] = dict(
        domain=dom_y, anchor=xn, overlaying=yl, side="right", range=[0, 120],
        tickvals=station_ticks, ticktext=[str(t) for t in station_ticks], showgrid=False, zeroline=False,
        showline=True, linecolor="#8c8c8c", linewidth=1, ticks="outside", ticklen=5, automargin=False,
        tickcolor="#8c8c8c", tickfont=dict(family=SERIF, size=16, color="#222"), ticklabelstandoff=3,
    )
    layout["annotations"].append(dict(
        text=p["label"], xref="paper", yref="paper", x=fx(11), y=fy(p["label_top"]),
        xanchor="left", yanchor="top", showarrow=False, borderpad=0,
        font=dict(family=SANS, size=23, color="black")))

fig.update_layout(**layout)
fig.write_html("out.html")
